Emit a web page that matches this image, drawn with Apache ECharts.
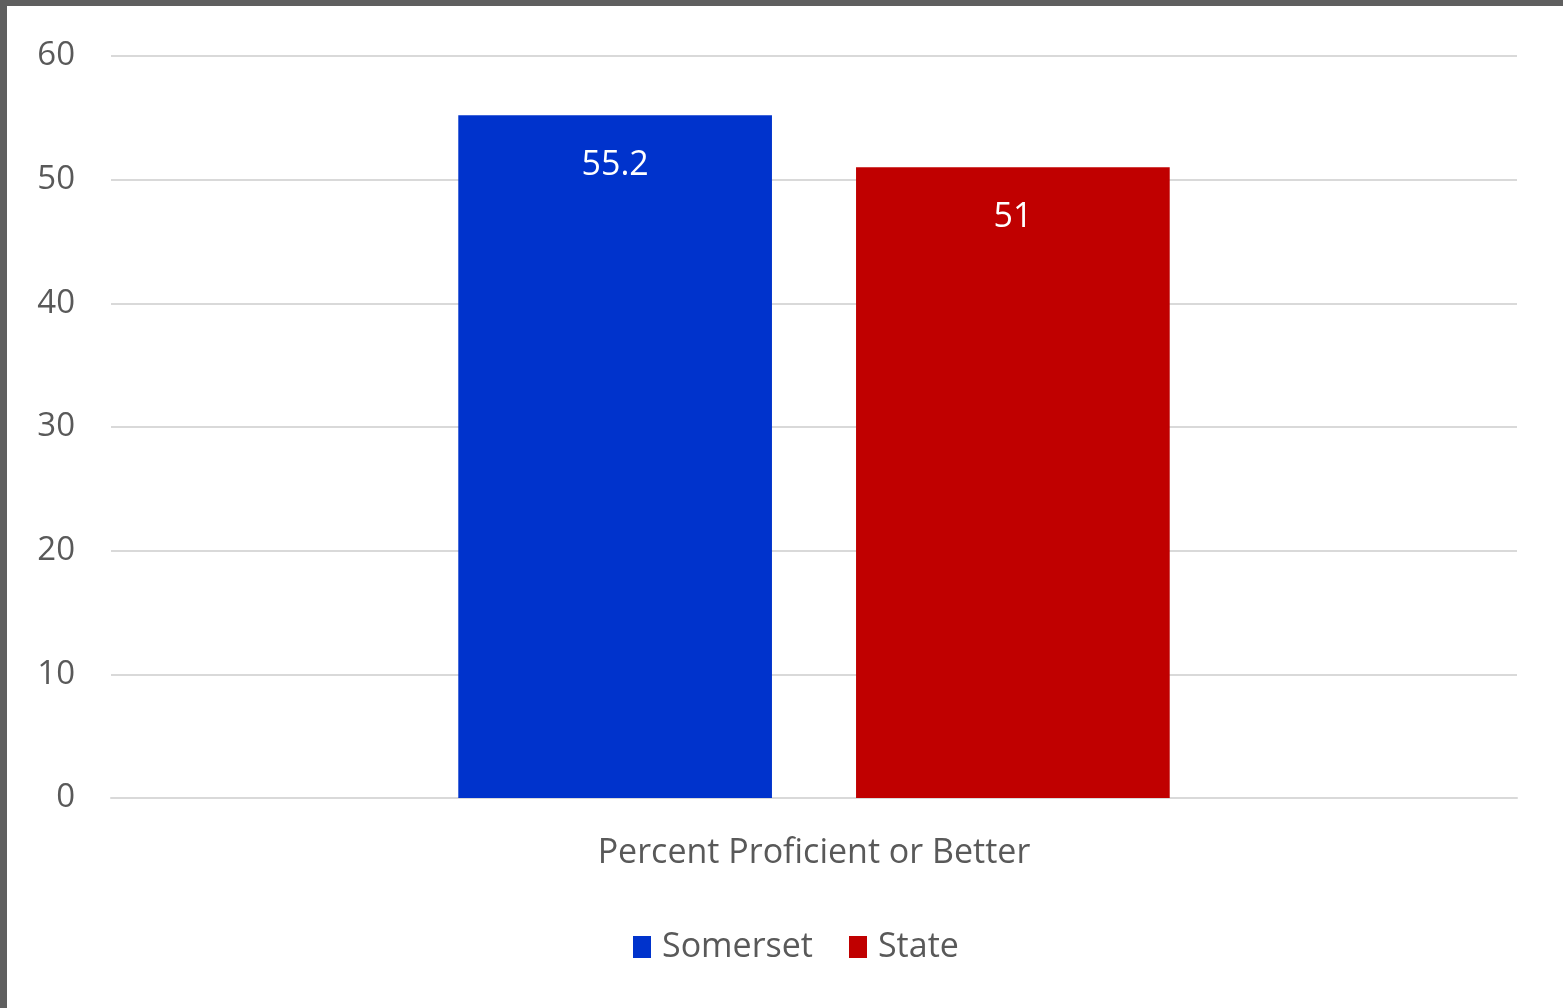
<!DOCTYPE html>
<html>
<head>
<meta charset="utf-8">
<script src="https://cdn.jsdelivr.net/npm/echarts@6/dist/echarts.min.js"></script>
<style>
html,body{margin:0;padding:0;background:#fff;}
#chart{width:1563px;height:1008px;}
</style>
</head>
<body>
<div id="chart"></div>
<script>
const categories = ['Percent Proficient or Better'];
const seriesNames = ['Somerset', 'State'];
const somersetValues = [55.2];
const stateValues = [51];
const yTicks = [0, 10, 20, 30, 40, 50, 60];

const chart = echarts.init(document.getElementById('chart'));
const font = '"Open Sans", "Noto Sans", sans-serif';
const labelCfg = {
  show: true,
  position: 'insideTop',
  distance: 33,
  color: '#ffffff',
  fontSize: 34,
  fontFamily: font
};
chart.setOption({
  animation: false,
  backgroundColor: '#ffffff',
  graphic: [
    {type: 'rect', left: 0, top: 0, shape: {width: 1563, height: 6}, style: {fill: '#5f5f5f'}},
    {type: 'rect', left: 0, top: 0, shape: {width: 7, height: 1008}, style: {fill: '#5f5f5f'}}
  ],
  grid: {left: 111, right: 46, top: 56, bottom: 210, containLabel: false},
  legend: {
    data: seriesNames,
    bottom: 39,
    left: 628,
    itemWidth: 18,
    itemHeight: 22,
    itemGap: 36,
    icon: 'rect',
    textStyle: {color: '#595959', fontSize: 34, fontFamily: font, padding: [0, 0, 0, 6]}
  },
  xAxis: {
    type: 'category',
    data: categories,
    axisLine: {show: true, lineStyle: {color: '#d9d9d9', width: 2}},
    axisTick: {show: false},
    axisLabel: {color: '#595959', fontSize: 34, fontFamily: font, margin: 38}
  },
  yAxis: {
    type: 'value',
    min: yTicks[0],
    max: yTicks[yTicks.length - 1],
    interval: 10,
    axisLine: {show: false},
    axisTick: {show: false},
    axisLabel: {color: '#595959', fontSize: 33, fontFamily: font, margin: 36},
    splitLine: {lineStyle: {color: '#d9d9d9', width: 2}}
  },
  series: [
    {
      name: seriesNames[0], type: 'bar', data: somersetValues,
      itemStyle: {color: '#0033cc'},
      barGap: '26.8%', barCategoryGap: '49.4%',
      label: labelCfg
    },
    {
      name: seriesNames[1], type: 'bar', data: stateValues,
      itemStyle: {color: '#c00000'},
      label: labelCfg
    }
  ]
});
</script>
</body>
</html>
